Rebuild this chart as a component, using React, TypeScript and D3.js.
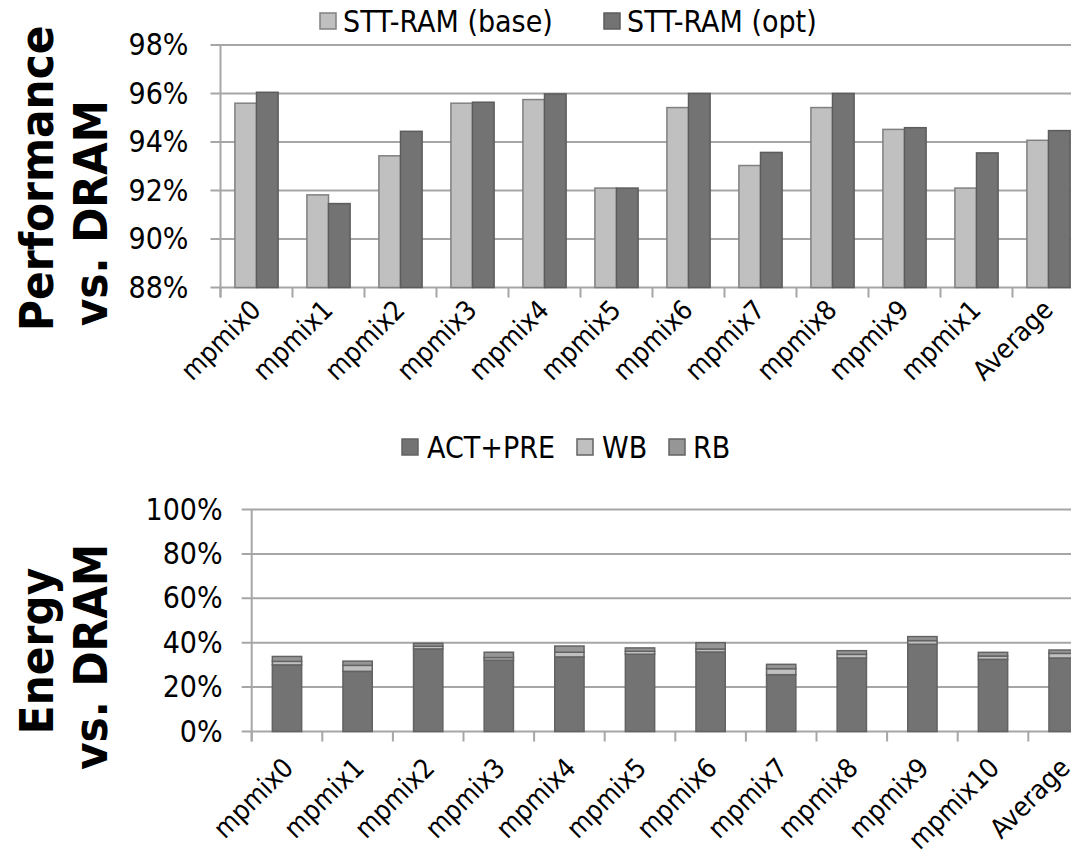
import React, { useRef, useEffect } from "react";
import { select, scaleBand, scaleLinear, range } from "d3";

const W = 1071;
const H = 855;
const FONT = "'DejaVu Sans Condensed', 'DejaVu Sans', sans-serif";

// top chart: performance vs DRAM
const perfLabels = ["mpmix0", "mpmix1", "mpmix2", "mpmix3", "mpmix4", "mpmix5", "mpmix6", "mpmix7", "mpmix8", "mpmix9", "mpmix1", "Average"];
const perfSeries = ["STT-RAM (base)", "STT-RAM (opt)"];
const perfBase = [95.6, 91.82, 93.43, 95.6, 95.75, 92.1, 95.42, 93.03, 95.42, 94.52, 92.1, 94.07];
const perfOpt = [96.05, 91.46, 94.44, 95.64, 95.98, 92.1, 96.0, 93.57, 96.0, 94.59, 93.55, 94.47];
const perfTicks = [88, 90, 92, 94, 96, 98];

// bottom chart: energy vs DRAM (stacked)
const energyLabels = ["mpmix0", "mpmix1", "mpmix2", "mpmix3", "mpmix4", "mpmix5", "mpmix6", "mpmix7", "mpmix8", "mpmix9", "mpmix10", "Average"];
const energySeries = ["ACT+PRE", "WB", "RB"];
const actPre = [30.0, 27.1, 37.2, 32.1, 33.6, 34.8, 35.8, 25.6, 33.1, 39.3, 32.5, 33.1];
const wb = [1.6, 2.7, 1.2, 1.2, 2.1, 1.35, 1.35, 2.7, 1.65, 1.65, 1.5, 2.1];
const rb = [2.2, 1.9, 1.3, 2.4, 2.8, 1.5, 2.85, 1.95, 1.65, 1.8, 1.65, 1.5];
const energyTicks = [0, 20, 40, 60, 80, 100];

const LIGHT = "#c0c0c0";
const DARK = "#737373";
const MID = "#969696";
const GRID = "#a6a6a6";

function App() {
  const svgRef = useRef<SVGSVGElement>(null);

  useEffect(() => {
    const svg = select(svgRef.current);
    svg.selectAll("*").remove();

    // ---------- top chart ----------
    const tx0 = 220.5;
    const tStep = 72;
    const xTop = scaleBand<number>()
      .domain(range(perfLabels.length))
      .range([tx0, tx0 + tStep * perfLabels.length])
      .paddingInner(0.4)
      .paddingOuter(0.2);
    const sub = scaleBand<number>().domain([0, 1]).range([0, xTop.bandwidth()]);
    const yTop = scaleLinear().domain([88, 98]).range([287.5, 45]);

    const top = svg.append("g");
    top.selectAll(".grid")
      .data(perfTicks)
      .join("line")
      .attr("x1", tx0 - 10)
      .attr("x2", W)
      .attr("y1", (d) => yTop(d))
      .attr("y2", (d) => yTop(d))
      .attr("stroke", GRID)
      .attr("stroke-width", 2);
    top.append("line")
      .attr("x1", tx0).attr("x2", tx0)
      .attr("y1", yTop(98)).attr("y2", yTop(88) + 10)
      .attr("stroke", GRID).attr("stroke-width", 2);
    top.selectAll(".xtick")
      .data(range(perfLabels.length + 1))
      .join("line")
      .attr("x1", (i) => tx0 + i * tStep)
      .attr("x2", (i) => tx0 + i * tStep)
      .attr("y1", yTop(88))
      .attr("y2", yTop(88) + 10)
      .attr("stroke", GRID).attr("stroke-width", 2);
    top.selectAll(".ylab")
      .data(perfTicks)
      .join("text")
      .attr("x", tx0 - 32)
      .attr("y", (d) => yTop(d) + 10)
      .attr("text-anchor", "end")
      .attr("font-size", 30)
      .text((d) => d + "%");

    [perfBase, perfOpt].forEach((vals, s) => {
      top.selectAll(".bar" + s)
        .data(vals)
        .join("rect")
        .attr("x", (d, i) => (xTop(i) as number) + (sub(s) as number))
        .attr("y", (d) => yTop(d))
        .attr("width", sub.bandwidth())
        .attr("height", (d) => yTop(88) - yTop(d))
        .attr("fill", s === 0 ? LIGHT : DARK)
        .attr("stroke", s === 0 ? "#808080" : "#5c5c5c")
        .attr("stroke-width", 1.5);
    });

    top.selectAll(".xlab")
      .data(perfLabels)
      .join("text")
      .attr("transform", (d, i) => {
        const cx = tx0 + (i + 0.5) * tStep + 6;
        return `translate(${cx},${yTop(88) + 24}) rotate(-45)`;
      })
      .attr("text-anchor", "end")
      .attr("font-size", 27)
      .text((d) => d);

    const tLeg = [
      { x: 320, tx: 343, c: LIGHT, s: "#808080" },
      { x: 604, tx: 627, c: DARK, s: "#5c5c5c" },
    ];
    tLeg.forEach((l, i) => {
      top.append("rect").attr("x", l.x).attr("y", 13).attr("width", 16).attr("height", 16)
        .attr("fill", l.c).attr("stroke", l.s).attr("stroke-width", 1.5);
      top.append("text").attr("x", l.tx).attr("y", 32).attr("font-size", 30).text(perfSeries[i]);
    });

    top.append("text")
      .attr("transform", `translate(53,${(yTop(88) + yTop(98)) / 2 + 12}) rotate(-90)`)
      .attr("text-anchor", "middle")
      .attr("font-size", 47)
      .attr("font-weight", "bold")
      .text("Performance");
    top.append("text")
      .attr("transform", `translate(107,${(yTop(88) + yTop(98)) / 2 + 47}) rotate(-90)`)
      .attr("text-anchor", "middle")
      .attr("font-size", 47)
      .attr("font-weight", "bold")
      .text("vs. DRAM");

    // ---------- bottom chart ----------
    const bx0 = 251.7;
    const bStep = 70.6;
    const xBot = scaleBand<number>()
      .domain(range(energyLabels.length))
      .range([bx0, bx0 + bStep * energyLabels.length])
      .paddingInner(0.585)
      .paddingOuter(0.2925);
    const yBot = scaleLinear().domain([0, 100]).range([731.5, 509.5]);

    const bot = svg.append("g");
    bot.selectAll(".grid")
      .data(energyTicks)
      .join("line")
      .attr("x1", bx0 - 10)
      .attr("x2", W)
      .attr("y1", (d) => yBot(d))
      .attr("y2", (d) => yBot(d))
      .attr("stroke", GRID)
      .attr("stroke-width", 2);
    bot.append("line")
      .attr("x1", bx0).attr("x2", bx0)
      .attr("y1", yBot(100)).attr("y2", yBot(0) + 10)
      .attr("stroke", GRID).attr("stroke-width", 2);
    bot.selectAll(".xtick")
      .data(range(energyLabels.length + 1))
      .join("line")
      .attr("x1", (i) => bx0 + i * bStep)
      .attr("x2", (i) => bx0 + i * bStep)
      .attr("y1", yBot(0))
      .attr("y2", yBot(0) + 10)
      .attr("stroke", GRID).attr("stroke-width", 2);
    bot.selectAll(".ylab")
      .data(energyTicks)
      .join("text")
      .attr("x", bx0 - 29)
      .attr("y", (d) => yBot(d) + 10)
      .attr("text-anchor", "end")
      .attr("font-size", 30)
      .text((d) => d + "%");

    const stacks = [actPre, wb, rb];
    const colors = [DARK, LIGHT, MID];
    stacks.forEach((vals, s) => {
      bot.selectAll(".seg" + s)
        .data(vals)
        .join("rect")
        .attr("x", (d, i) => xBot(i) as number)
        .attr("y", (d, i) => {
          let base = 0;
          for (let k = 0; k < s; k++) base += stacks[k][i];
          return yBot(base + d);
        })
        .attr("width", xBot.bandwidth())
        .attr("height", (d) => yBot(0) - yBot(d))
        .attr("fill", colors[s])
        .attr("stroke", "#636363")
        .attr("stroke-width", 1.5);
    });

    bot.selectAll(".xlab")
      .data(energyLabels)
      .join("text")
      .attr("transform", (d, i) => {
        const cx = bx0 + (i + 0.5) * bStep + 8;
        return `translate(${cx},${yBot(0) + 38}) rotate(-45)`;
      })
      .attr("text-anchor", "end")
      .attr("font-size", 27)
      .text((d) => d);

    const bLeg = [
      { x: 402, tx: 427 },
      { x: 577, tx: 602 },
      { x: 669, tx: 693 },
    ];
    bLeg.forEach((l, i) => {
      bot.append("rect").attr("x", l.x).attr("y", 439).attr("width", 16).attr("height", 16)
        .attr("fill", colors[i]).attr("stroke", "#636363").attr("stroke-width", 1.5);
      bot.append("text").attr("x", l.tx).attr("y", 458).attr("font-size", 30).text(energySeries[i]);
    });

    bot.append("text")
      .attr("transform", `translate(53,651) rotate(-90)`)
      .attr("text-anchor", "middle")
      .attr("font-size", 47)
      .attr("font-weight", "bold")
      .text("Energy");
    bot.append("text")
      .attr("transform", `translate(107,657) rotate(-90)`)
      .attr("text-anchor", "middle")
      .attr("font-size", 47)
      .attr("font-weight", "bold")
      .text("vs. DRAM");
  }, []);

  return (
    <div className="App">
      <svg
        ref={svgRef}
        width={W}
        height={H}
        style={{ position: "absolute", left: 0, top: 0, background: "#fff", fontFamily: FONT }}
      ></svg>
    </div>
  );
}

export default App;
